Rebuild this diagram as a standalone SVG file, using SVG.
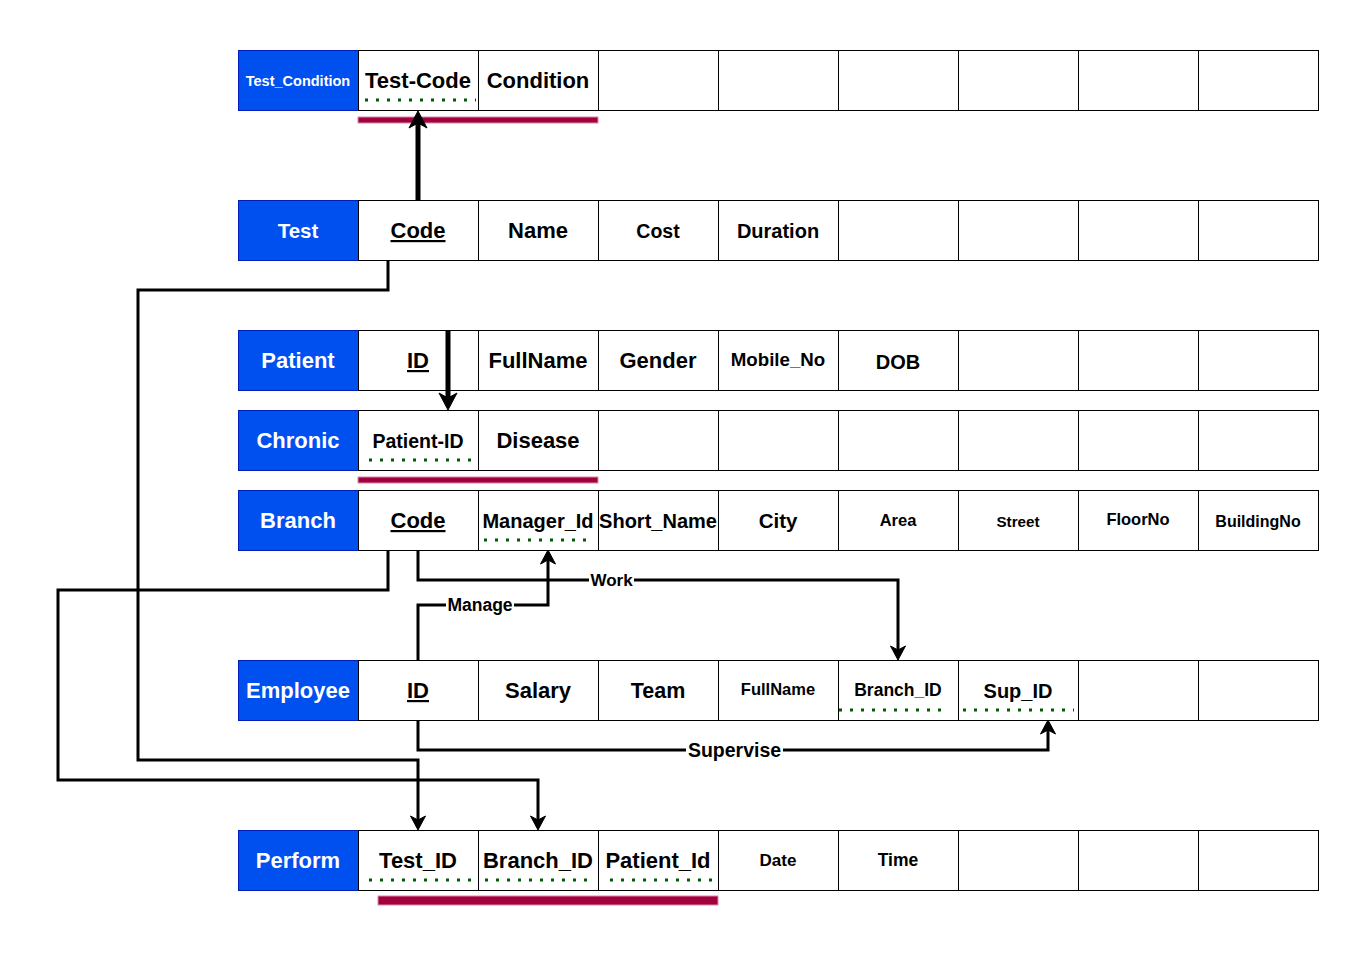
<svg xmlns="http://www.w3.org/2000/svg" width="1369" height="958" viewBox="0 0 1369 958">
<style>
text{font-family:"Liberation Sans",Arial,Helvetica,sans-serif;font-weight:bold;text-anchor:middle}
.c{fill:#fff;stroke:#000;stroke-width:1}
.h{fill:#0050EF;stroke:#001DBC;stroke-width:1}
.ht{fill:#fff}
.t{fill:#000}
.u{text-decoration:underline}
.fk{fill:none;stroke:#005A00;stroke-width:3;stroke-dasharray:3 8}
.pk{fill:#A2003F;stroke:#D98CA8;stroke-width:1}
.ln{fill:none;stroke:#000;stroke-width:3;marker-end:url(#arr)}
.tk{fill:none;stroke:#000;stroke-width:5;marker-end:url(#arrT)}
.lb{fill:#fff}
.lt{fill:#000}
</style>
<defs>
<marker id="arr" viewBox="0 0 14 16" refX="4" refY="8" markerWidth="14" markerHeight="16" markerUnits="userSpaceOnUse" orient="auto" overflow="visible">
<path d="M0,0.5 L14,8 L0,15.5 L4,8 Z" fill="#000" stroke="#000" stroke-width="1" stroke-linejoin="miter"/>
</marker>
<marker id="arrT" viewBox="0 0 17 19" refX="5" refY="9.5" markerWidth="17" markerHeight="19" markerUnits="userSpaceOnUse" orient="auto" overflow="visible">
<path d="M0,0.5 L17,9.5 L0,18.5 L5,9.5 Z" fill="#000" stroke="#000" stroke-width="1"/>
</marker>
</defs>
<rect width="1369" height="958" fill="#fff"/>

<g id="test_condition">
<g transform="translate(0.5,0.5)">
<rect class="h" x="238" y="50" width="120" height="60"/>
<rect class="c" x="358" y="50" width="120" height="60"/>
<rect class="c" x="478" y="50" width="120" height="60"/>
<rect class="c" x="598" y="50" width="120" height="60"/>
<rect class="c" x="718" y="50" width="120" height="60"/>
<rect class="c" x="838" y="50" width="120" height="60"/>
<rect class="c" x="958" y="50" width="120" height="60"/>
<rect class="c" x="1078" y="50" width="120" height="60"/>
<rect class="c" x="1198" y="50" width="120" height="60"/>
</g>
<text class="ht" x="298" y="85.5" font-size="14.5">Test_Condition</text>
<text class="t" x="418" y="88" font-size="22">Test-Code</text>
<text class="t" x="538" y="88" font-size="22">Condition</text>
<line class="fk" x1="365" y1="100" x2="476" y2="100"/>
<rect class="pk" x="358" y="117" width="240" height="6"/>
</g>

<g id="test">
<g transform="translate(0.5,0.5)">
<rect class="h" x="238" y="200" width="120" height="60"/>
<rect class="c" x="358" y="200" width="120" height="60"/>
<rect class="c" x="478" y="200" width="120" height="60"/>
<rect class="c" x="598" y="200" width="120" height="60"/>
<rect class="c" x="718" y="200" width="120" height="60"/>
<rect class="c" x="838" y="200" width="120" height="60"/>
<rect class="c" x="958" y="200" width="120" height="60"/>
<rect class="c" x="1078" y="200" width="120" height="60"/>
<rect class="c" x="1198" y="200" width="120" height="60"/>
</g>
<text class="ht" x="298" y="237.5" font-size="20.5">Test</text>
<text class="t u" x="418" y="238" font-size="22">Code</text>
<text class="t" x="538" y="238" font-size="22">Name</text>
<text class="t" x="658" y="238" font-size="19.5">Cost</text>
<text class="t" x="778" y="238" font-size="20">Duration</text>
</g>

<g id="patient">
<g transform="translate(0.5,0.5)">
<rect class="h" x="238" y="330" width="120" height="60"/>
<rect class="c" x="358" y="330" width="120" height="60"/>
<rect class="c" x="478" y="330" width="120" height="60"/>
<rect class="c" x="598" y="330" width="120" height="60"/>
<rect class="c" x="718" y="330" width="120" height="60"/>
<rect class="c" x="838" y="330" width="120" height="60"/>
<rect class="c" x="958" y="330" width="120" height="60"/>
<rect class="c" x="1078" y="330" width="120" height="60"/>
<rect class="c" x="1198" y="330" width="120" height="60"/>
</g>
<text class="ht" x="298" y="368" font-size="22">Patient</text>
<text class="t u" x="418" y="368" font-size="22">ID</text>
<text class="t" x="538" y="368" font-size="22">FullName</text>
<text class="t" x="658" y="368" font-size="22">Gender</text>
<text class="t" x="778" y="365.5" font-size="18.7">Mobile_No</text>
<text class="t" x="898" y="368.5" font-size="20">DOB</text>
</g>

<g id="chronic">
<g transform="translate(0.5,0.5)">
<rect class="h" x="238" y="410" width="120" height="60"/>
<rect class="c" x="358" y="410" width="120" height="60"/>
<rect class="c" x="478" y="410" width="120" height="60"/>
<rect class="c" x="598" y="410" width="120" height="60"/>
<rect class="c" x="718" y="410" width="120" height="60"/>
<rect class="c" x="838" y="410" width="120" height="60"/>
<rect class="c" x="958" y="410" width="120" height="60"/>
<rect class="c" x="1078" y="410" width="120" height="60"/>
<rect class="c" x="1198" y="410" width="120" height="60"/>
</g>
<text class="ht" x="298" y="448" font-size="22">Chronic</text>
<text class="t" x="418" y="448" font-size="19.5">Patient-ID</text>
<text class="t" x="538" y="448" font-size="22">Disease</text>
<line class="fk" x1="369" y1="460" x2="478" y2="460"/>
<rect class="pk" x="358" y="477" width="240" height="6"/>
</g>

<g id="branch">
<g transform="translate(0.5,0.5)">
<rect class="h" x="238" y="490" width="120" height="60"/>
<rect class="c" x="358" y="490" width="120" height="60"/>
<rect class="c" x="478" y="490" width="120" height="60"/>
<rect class="c" x="598" y="490" width="120" height="60"/>
<rect class="c" x="718" y="490" width="120" height="60"/>
<rect class="c" x="838" y="490" width="120" height="60"/>
<rect class="c" x="958" y="490" width="120" height="60"/>
<rect class="c" x="1078" y="490" width="120" height="60"/>
<rect class="c" x="1198" y="490" width="120" height="60"/>
</g>
<text class="ht" x="298" y="528" font-size="22">Branch</text>
<text class="t u" x="418" y="528" font-size="22">Code</text>
<text class="t" x="538" y="528" font-size="20">Manager_Id</text>
<text class="t" x="658" y="528" font-size="20">Short_Name</text>
<text class="t" x="778" y="527.7" font-size="20.5">City</text>
<text class="t" x="898" y="525.7" font-size="16.5">Area</text>
<text class="t" x="1018" y="526.7" font-size="15.2">Street</text>
<text class="t" x="1138" y="525" font-size="16.5">FloorNo</text>
<text class="t" x="1258" y="527" font-size="16">BuildingNo</text>
<line class="fk" x1="484" y1="540" x2="594" y2="540"/>
</g>

<g id="employee">
<g transform="translate(0.5,0.5)">
<rect class="h" x="238" y="660" width="120" height="60"/>
<rect class="c" x="358" y="660" width="120" height="60"/>
<rect class="c" x="478" y="660" width="120" height="60"/>
<rect class="c" x="598" y="660" width="120" height="60"/>
<rect class="c" x="718" y="660" width="120" height="60"/>
<rect class="c" x="838" y="660" width="120" height="60"/>
<rect class="c" x="958" y="660" width="120" height="60"/>
<rect class="c" x="1078" y="660" width="120" height="60"/>
<rect class="c" x="1198" y="660" width="120" height="60"/>
</g>
<text class="ht" x="298" y="698" font-size="22">Employee</text>
<text class="t u" x="418" y="698" font-size="22">ID</text>
<text class="t" x="538" y="698" font-size="22">Salary</text>
<text class="t" x="658" y="698" font-size="21.5">Team</text>
<text class="t" x="778" y="695" font-size="16.5">FullName</text>
<text class="t" x="898" y="696" font-size="17.5">Branch_ID</text>
<text class="t" x="1018" y="698" font-size="20">Sup_ID</text>
<line class="fk" x1="839" y1="710" x2="949" y2="710"/>
<line class="fk" x1="963" y1="710" x2="1074" y2="710"/>
</g>

<g id="perform">
<g transform="translate(0.5,0.5)">
<rect class="h" x="238" y="830" width="120" height="60"/>
<rect class="c" x="358" y="830" width="120" height="60"/>
<rect class="c" x="478" y="830" width="120" height="60"/>
<rect class="c" x="598" y="830" width="120" height="60"/>
<rect class="c" x="718" y="830" width="120" height="60"/>
<rect class="c" x="838" y="830" width="120" height="60"/>
<rect class="c" x="958" y="830" width="120" height="60"/>
<rect class="c" x="1078" y="830" width="120" height="60"/>
<rect class="c" x="1198" y="830" width="120" height="60"/>
</g>
<text class="ht" x="298" y="868" font-size="22">Perform</text>
<text class="t" x="418" y="868" font-size="22">Test_ID</text>
<text class="t" x="538" y="868" font-size="22">Branch_ID</text>
<text class="t" x="658" y="868" font-size="22">Patient_Id</text>
<text class="t" x="778" y="866" font-size="17">Date</text>
<text class="t" x="898" y="866" font-size="17.5">Time</text>
<line class="fk" x1="369" y1="880" x2="477" y2="880"/>
<line class="fk" x1="485" y1="880" x2="594" y2="880"/>
<line class="fk" x1="610" y1="880" x2="719" y2="880"/>
<rect class="pk" x="378" y="896" width="340" height="9"/>
</g>

<g id="connectors">
<path class="tk" d="M418,200 V123"/>
<path class="tk" d="M448,330 V398"/>
<path class="ln" d="M388,260 V290 H138 V760 H418 V820"/>
<path class="ln" d="M388,550 V590 H58 V780 H538 V820"/>
<path class="ln" d="M418,550 V580 H898 V650"/>
<path class="ln" d="M418,660 V605 H548 V560"/>
<path class="ln" d="M418,720 V750 H1048 V730"/>
<rect class="lb" x="589" y="570" width="45" height="20"/>
<text class="lt" x="611.5" y="586" font-size="17">Work</text>
<rect class="lb" x="446" y="595" width="68" height="20"/>
<text class="lt" x="480" y="611" font-size="17.5">Manage</text>
<rect class="lb" x="686" y="739" width="97" height="22"/>
<text class="lt" x="734.5" y="757" font-size="19.5">Supervise</text>
</g>
</svg>
